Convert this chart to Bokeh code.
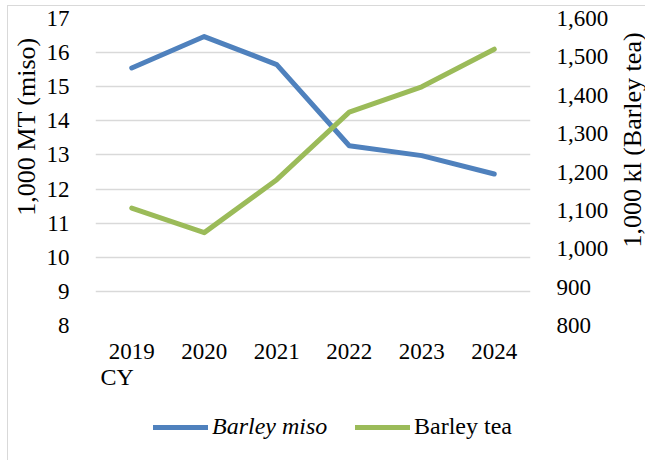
import math
from bokeh.plotting import figure
from bokeh.layouts import column, row
from bokeh.models import (FactorRange, Range1d, LinearAxis, Title, Legend, LegendItem, Label,
                          SingleIntervalTicker, NumeralTickFormatter, ColumnDataSource)
from bokeh.embed import file_html
from bokeh.resources import INLINE

years = ["2019", "2020", "2021", "2022", "2023", "2024"]
barley_miso = [15.55, 16.47, 15.65, 13.27, 12.98, 12.44]   # 1,000 MT
barley_tea = [1106, 1042, 1180, 1356, 1422, 1520]          # 1,000 kl
series_names = ["Barley miso", "Barley tea"]
left_title = "1,000 MT (miso)"
right_title = "1,000 kl (Barley tea)"
x_title = "CY"

FONT = "Liberation Serif, serif"
FS = "23px"      # tick labels
FS_L = "24px"    # legend / CY
FS_T = "26px"    # axis titles
BLUE = "#4F81BD"
GREEN = "#9BBB59"
GRID = "#D9D9D9"
NB = "\u00a0"

p = figure(x_range=FactorRange(*years), y_range=Range1d(8, 17),
           width=612, height=400, output_backend="svg", toolbar_location=None,
           min_border_left=87, min_border_right=90, min_border_top=12, min_border_bottom=81)
p.outline_line_color = None
p.background_fill_color = "white"
p.border_fill_color = "white"

p.extra_y_ranges = {"tea": Range1d(800, 1600)}

def style_axis(a, standoff):
    a.axis_line_color = None
    a.major_tick_line_color = None
    a.minor_tick_line_color = None
    a.major_label_standoff = standoff
    a.major_label_text_font = FONT
    a.major_label_text_font_size = FS
    a.major_label_text_color = "black"
    a.axis_label_text_font = FONT
    a.axis_label_text_font_size = FS_T
    a.axis_label_text_font_style = "normal"
    a.axis_label_text_color = "black"

ax = p.yaxis[0]
ax.ticker = SingleIntervalTicker(interval=1)
style_axis(ax, 20)
ax.axis_label = NB * 14 + left_title
ax.axis_label_standoff = 3

rax = LinearAxis(y_range_name="tea", ticker=SingleIntervalTicker(interval=100),
                 formatter=NumeralTickFormatter(format="0,0"))
style_axis(rax, 20)
p.add_layout(rax, "right")

style_axis(p.xaxis[0], 12)

p.add_layout(Title(text=x_title, align="left", offset=5, standoff=0,
                   text_font=FONT, text_font_size=FS_L, text_font_style="normal",
                   text_color="black"), "below")

p.xgrid.grid_line_color = None
p.ygrid.grid_line_color = GRID
p.ygrid.grid_line_width = 1.5
p.ygrid.ticker = SingleIntervalTicker(interval=1)

line_kw = dict(line_width=5, line_cap="round", line_join="round")
p.line(years, barley_miso, line_color=BLUE, **line_kw)
p.line(years, barley_tea, y_range_name="tea", line_color=GREEN, **line_kw)

# narrow strip on the right carrying the secondary-axis title (reads bottom-to-top)
rt = figure(x_range=Range1d(0, 1), y_range=Range1d(0, 1), width=25, height=400,
            output_backend="svg", toolbar_location=None, x_axis_type=None, y_axis_type=None,
            min_border=0, min_border_left=0, min_border_right=0, min_border_top=12,
            min_border_bottom=81)
rt.outline_line_color = None
rt.grid.visible = False
rt.add_layout(Label(x=11.5, y=185.5, x_units="screen", y_units="screen", text=right_title,
                    angle=math.pi / 2, text_align="center", text_baseline="middle",
                    text_font=FONT, text_font_size=FS_T, text_color="black"))

# legend strip (frame kept at the same horizontal extent as the main frame)
lg = figure(x_range=Range1d(0, 1), y_range=Range1d(0, 1), width=637, height=54,
            output_backend="svg", toolbar_location=None, x_axis_type=None, y_axis_type=None,
            min_border=0, min_border_left=87, min_border_right=115, min_border_top=0,
            min_border_bottom=0)
lg.outline_line_color = None
lg.grid.visible = False
empty = ColumnDataSource(data=dict(x=[float("nan")], y=[float("nan")]))
d1 = lg.line("x", "y", source=empty, line_color=BLUE, **line_kw)
d2 = lg.line("x", "y", source=empty, line_color=GREEN, **line_kw)

def make_legend(label, renderer, style, loc):
    return Legend(items=[LegendItem(label=label, renderers=[renderer])],
                  location=loc, orientation="horizontal",
                  padding=0, margin=0, spacing=0, glyph_width=55, glyph_height=20,
                  label_standoff=4, label_height=20,
                  label_text_font=FONT, label_text_font_size=FS_L, label_text_font_style=style,
                  label_text_color="black", border_line_color=None, background_fill_alpha=0)

lg.add_layout(make_legend(series_names[0], d1, "italic", (58, 20)))
lg.add_layout(make_legend(series_names[1], d2, "normal", (260, 20)))

layout = column(row(p, rt, spacing=0), lg, spacing=0)
layout.margin = (5, 0, 0, 7)
layout.styles = {"border-left": "1px solid #D9D9D9", "border-top": "1px solid #D9D9D9"}

open("out.html", "w").write(file_html(layout, INLINE))
